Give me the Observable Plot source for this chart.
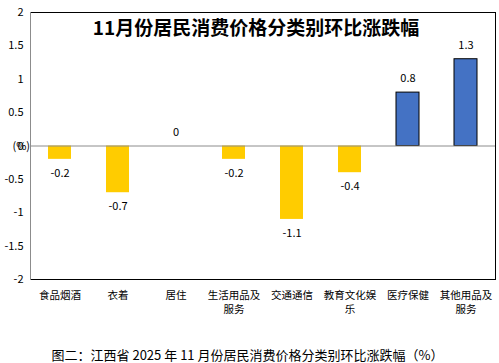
<!DOCTYPE html>
<html><head><meta charset="utf-8">
<script src="https://cdn.jsdelivr.net/npm/d3@7"></script>
<script src="https://cdn.jsdelivr.net/npm/@observablehq/plot@0.6"></script>
<style>
body{margin:0;background:#fff;font-family:"Noto Sans CJK SC",sans-serif;}
#chart svg{display:block;}
#cap{text-align:center;font-size:13px;line-height:15px;color:#000;margin-top:17px;padding-right:4px;}
</style></head><body><div id="chart"></div><div id="cap"></div>
<script>
const categories = ["食品烟酒","衣着","居住","生活用品及服务","交通通信","教育文化娱乐","医疗保健","其他用品及服务"];
const tickLabels = ["食品烟酒","衣着","居住","生活用品及\n服务","交通通信","教育文化娱\n乐","医疗保健","其他用品及\n服务"];
const values = [-0.2, -0.7, 0, -0.2, -1.1, -0.4, 0.8, 1.3];
const yTicks = [2, 1.5, 1, 0.5, 0, -0.5, -1, -1.5, -2];
const title = "11月份居民消费价格分类别环比涨跌幅";
const unitLabel = "(%)";
const caption = "图二：江西省 2025 年 11 月份居民消费价格分类别环比涨跌幅（%）";

const data = categories.map((c, i) => ({category: c, value: values[i]}));
const labelOf = new Map(categories.map((c, i) => [c, tickLabels[i]]));
const font = '"Noto Sans CJK SC", sans-serif';

const plot = Plot.plot({
  width: 499, height: 330,
  marginTop: 12, marginBottom: 51, marginLeft: 30, marginRight: 4,
  style: {fontFamily: font, fontSize: "11px", color: "#000", background: "#fff"},
  x: {domain: categories, paddingInner: 0.6, paddingOuter: 0.3, label: null},
  y: {domain: [-2, 2], label: null},
  marks: [
    Plot.frame({stroke: "#000"}),
    Plot.frame({anchor: "left", stroke: "#8c8c8c"}),
    Plot.barY(data.filter(d => d.value < 0), {x: "category", y: "value", fill: "#FFCC00"}),
    Plot.barY(data.filter(d => d.value > 0), {x: "category", y: "value", fill: "#4472C4", stroke: "#000", strokeWidth: 1}),
    Plot.ruleY([0], {stroke: "#8c8c8c"}),
    Plot.axisY({ticks: yTicks, tickSize: 0, tickPadding: 7, tickFormat: d => String(d), label: null, fill: "#000"}),
    Plot.axisX({tickSize: 0, tickPadding: 10, tickFormat: c => labelOf.get(c), lineHeight: 1.3, fontSize: 10.5, label: null, fill: "#000"}),
    Plot.text(data.filter(d => d.value >= 0), {x: "category", y: "value", text: d => String(d.value), dy: -14, fill: "#000"}),
    Plot.text(data.filter(d => d.value < 0), {x: "category", y: "value", text: d => String(d.value), dy: 14, fill: "#000"}),
    Plot.text([title], {frameAnchor: "top", dy: 9, dx: -7, fontSize: 19, fontWeight: "bold", fill: "#000"}),
    Plot.text([unitLabel], {frameAnchor: "left", y: [0], dx: -18, fill: "#000"})
  ]
});
document.getElementById("chart").append(plot);
document.getElementById("cap").textContent = caption;
</script></body></html>
